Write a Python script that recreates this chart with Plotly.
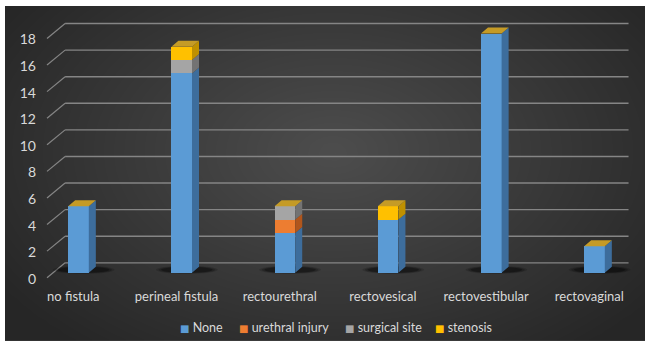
import numpy as np
import plotly.graph_objects as go

# ---- data -------------------------------------------------------------
categories = ["no fistula", "perineal fistula", "rectourethral",
              "rectovesical", "rectovestibular", "rectovaginal"]
none_vals = [5, 15, 3, 4, 18, 2]
urethral_injury = [0, 0, 1, 0, 0, 0]
surgical_site = [0, 1, 1, 0, 0, 0]
stenosis = [0, 1, 0, 1, 0, 0]
y_ticks = [0, 2, 4, 6, 8, 10, 12, 14, 16, 18]

series = [
    ("None", none_vals, "#5b9bd5", "#3d6d9c"),
    ("urethral injury", urethral_injury, "#ed7d31", "#b1561c"),
    ("surgical site", surgical_site, "#a5a5a5", "#737373"),
    ("stenosis", stenosis, "#ffc000", "#bf9000"),
]
top_colour = "#c59b26"

# ---- geometry of the pseudo-3D look ----------------------------------
W, H = 645, 345
bar_w = 0.2          # front face width (category units)
depth_x = 0.068      # receding depth of a column, x units
depth_y = 0.45       # receding depth of a column, y units
wall_dy = 0.75       # back wall sits this far "up" from the front plane
floor_dy = -0.37     # front edge of the floor
wall_x0 = -0.13      # where the back wall starts
slant_x0 = -0.305    # where the floor edge starts
wall_x1 = 5.33       # right end of back wall lines

x_range = [-0.373, 5.441]
y_range = [-0.743, 19.777]

fig = go.Figure()

# ---- radial background --------------------------------------------------
gx = np.linspace(0, W, 65)
gy = np.linspace(0, H, 35)
XX, YY = np.meshgrid(gx, gy)
r = np.sqrt(((XX - 330) / 400) ** 2 + ((YY - 150) / 260) ** 2)
fig.add_trace(go.Heatmap(
    x=gx, y=gy, z=np.clip(r, 0, 1), zmin=0, zmax=1, zsmooth="best",
    colorscale=[[0, "#4d4d4d"], [1, "#262626"]], showscale=False,
    hoverinfo="skip", xaxis="x", yaxis="y"))

xs = np.arange(len(categories))
totals = np.sum([s[1] for s in series], axis=0)

# ---- back wall and floor edge lines -------------------------------------
for v in y_ticks:
    fig.add_shape(type="line", xref="x2", yref="y2", layer="below",
                  x0=wall_x0, x1=wall_x1, y0=v + wall_dy, y1=v + wall_dy,
                  line=dict(color="#858585", width=1.4))
    fig.add_shape(type="line", xref="x2", yref="y2", layer="below",
                  x0=slant_x0, x1=wall_x0, y0=v + floor_dy, y1=v + wall_dy,
                  line=dict(color="#858585", width=1.2))

# ---- soft column shadows ------------------------------------------------------
for xi in xs:
    for grow, alpha in [(0.05, 0.15), (0.025, 0.2), (0.0, 0.3)]:
        fig.add_shape(type="circle", xref="x2", yref="y2", layer="below",
                      x0=xi - 0.2 - grow, x1=xi + 0.3 + grow,
                      y0=0.0 - grow * 1.5, y1=0.45 + grow * 1.5,
                      fillcolor=f"rgba(0,0,0,{alpha})", line=dict(width=0))

# ---- front faces ----------------------------------------------------------
for name, vals, front, side in series:
    fig.add_trace(go.Bar(
        x=xs, y=vals, name=name, width=bar_w,
        marker=dict(color=front, line=dict(width=0)),
        showlegend=False, xaxis="x2", yaxis="y2", hoverinfo="skip"))

# ---- side faces ------------------------------------------------------------
base = np.zeros(len(categories))
for name, vals, front, side in series:
    px, py = [], []
    for xi, b0, v in zip(xs, base, vals):
        if v <= 0:
            continue
        xr = xi + bar_w / 2
        b1 = b0 + v
        px += [xr, xr + depth_x, xr + depth_x, xr, xr, None]
        py += [b0, b0 + depth_y, b1 + depth_y, b1, b0, None]
    if px:
        fig.add_trace(go.Scatter(
            x=px, y=py, mode="lines", fill="toself", fillcolor=side,
            line=dict(width=0, color=side), showlegend=False,
            hoverinfo="skip", xaxis="x2", yaxis="y2"))
    base = base + np.array(vals)

# ---- top faces ---------------------------------------------------------------
tx, ty = [], []
for xi, t in zip(xs, totals):
    xl, xr = xi - bar_w / 2, xi + bar_w / 2
    tx += [xl, xr, xr + depth_x, xl + depth_x, xl, None]
    ty += [t, t, t + depth_y, t + depth_y, t, None]
fig.add_trace(go.Scatter(
    x=tx, y=ty, mode="lines", fill="toself", fillcolor=top_colour,
    line=dict(width=0, color=top_colour), showlegend=False,
    hoverinfo="skip", xaxis="x2", yaxis="y2"))

font_family = "Lato, 'Open Sans', sans-serif"
text_col = "#d9d9d9"

# ---- legend row ----------------------------------------------------------------
legend_left_px = [178, 237, 343, 433]
for (name, vals, front, side), lx in zip(series, legend_left_px):
    fig.add_annotation(
        xref="paper", yref="paper", x=lx / W, y=(H - 331) / H,
        xanchor="left", yanchor="middle", showarrow=False,
        text=(f"<span style='color:{front};font-family:DejaVu Sans;font-size:10px'>"
              f"\u25A0</span> {name}"),
        font=dict(size=12.5, color=text_col, family=font_family))

fig.update_layout(
    width=W, height=H,
    margin=dict(l=0, r=0, t=0, b=0),
    paper_bgcolor="white",
    plot_bgcolor="rgba(0,0,0,0)",
    barmode="stack",
    showlegend=False,
    font=dict(family=font_family, color=text_col, size=13),
    xaxis=dict(domain=[5 / W, 1], range=[0, W], visible=False, fixedrange=True),
    yaxis=dict(domain=[0, (H - 6) / H], range=[H, 0], visible=False, fixedrange=True),
    xaxis2=dict(domain=[40 / W, 640 / W], range=x_range, anchor="y2",
                tickvals=xs - 0.05, ticktext=categories, showgrid=False,
                zeroline=False, showline=False, ticks="", ticklabelstandoff=4,
                tickfont=dict(size=13, color=text_col)),
    yaxis2=dict(domain=[(H - 286) / H, (H - 10) / H], range=y_range, anchor="x2",
                tickvals=y_ticks, showgrid=False, zeroline=False, showline=False,
                ticks="", ticklabelstandoff=3, ticklabelshift=6,
                tickfont=dict(size=14, color=text_col)),
)

fig.write_html("out.html")
